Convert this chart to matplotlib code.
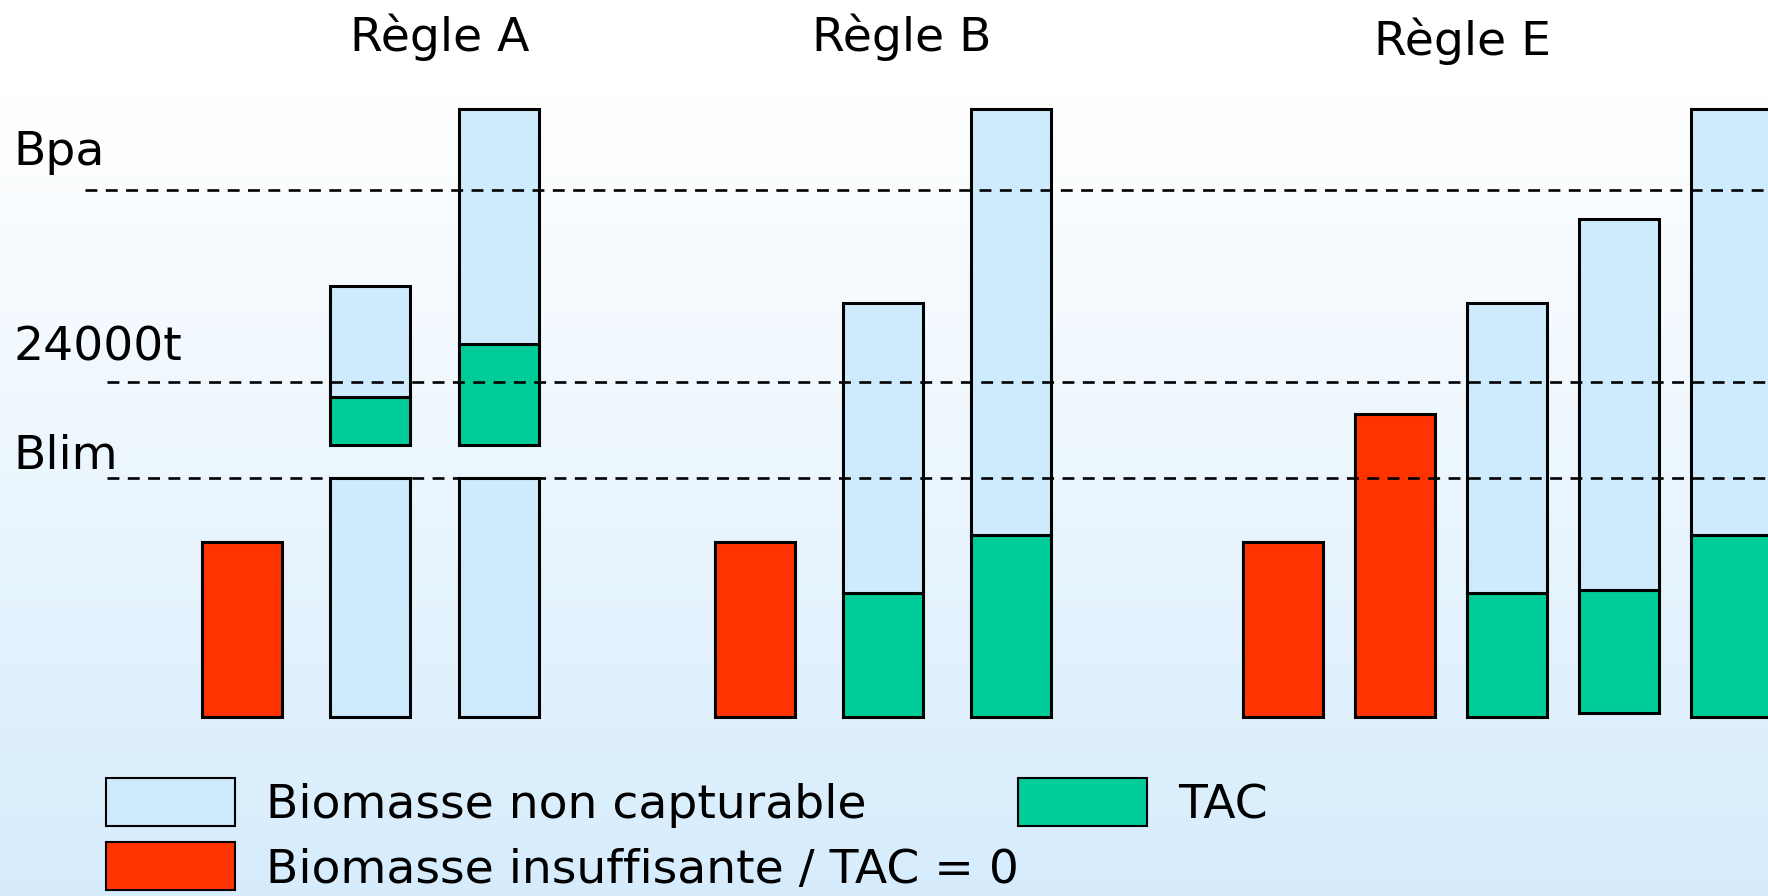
import matplotlib.pyplot as plt
from matplotlib.patches import Rectangle
import numpy as np

# biomass units: thousand tonnes (24 = 24000t)
bpa = 37.8
seuil = 24.0
blim = 17.1

groups = ['Règle A', 'Règle B', 'Règle E']

# one entry per bar: list of (bottom, top, kind) segments
# kind: 'nc' non capturable, 'tac', 'ins' insuffisante
bars_A = [
    [(0, 12.5, 'ins')],
    [(0, blim, 'nc'), (19.5, 22.9, 'tac'), (22.9, 30.9, 'nc')],
    [(0, blim, 'nc'), (19.5, 26.7, 'tac'), (26.7, 43.6, 'nc')],
]
bars_B = [
    [(0, 12.5, 'ins')],
    [(0, 8.9, 'tac'), (8.9, 29.7, 'nc')],
    [(0, 13.0, 'tac'), (13.0, 43.6, 'nc')],
]
bars_E = [
    [(0, 12.5, 'ins')],
    [(0, 21.7, 'ins')],
    [(0, 8.9, 'tac'), (8.9, 29.7, 'nc')],
    [(0.25, 9.1, 'tac'), (9.1, 35.7, 'nc')],
    [(0, 13.0, 'tac'), (13.0, 43.6, 'nc')],
]

legend_labels = {'nc': 'Biomasse non capturable',
                 'ins': 'Biomasse insuffisante / TAC = 0',
                 'tac': 'TAC'}
colors = {'nc': '#cdebfd', 'tac': '#00cc99', 'ins': '#ff3300'}

# layout (horizontal positions in canvas units)
xc_A = [215, 328.5, 442.5]
xc_B = [669.5, 783, 896.5]
xc_E = [1137.5, 1237, 1336.5, 1436, 1535]
title_x = [390, 800, 1297]
bw = 71
px = 12.375  # canvas px per biomass unit

fig = plt.figure(figsize=(17.68, 8.96), dpi=100)
ax = fig.add_axes([0, 0, 1, 1])
ymin, ymax = -(795 - 636) / px, 636 / px
ax.set_xlim(0, 1568)
ax.set_ylim(ymin, ymax)
ax.axis('off')

# background: white header then vertical gradient to pale blue
top_c = np.array([1.0, 1.0, 1.0])
bot_c = np.array([0xd6, 0xec, 0xfc]) / 255.
yy = np.linspace(0, 1, 400)[:, None]
grad = top_c + (bot_c - top_c) * yy
grad = np.repeat(grad[:, None, :], 2, axis=1)
y_grad_top = (636 - 87) / px
ax.imshow(grad, extent=[0, 1568, ymin, y_grad_top], aspect='auto', zorder=0)
ax.add_patch(Rectangle((0, y_grad_top), 1568, ymax - y_grad_top,
                       facecolor='white', edgecolor='none', zorder=0))

# reference levels, drawn over the bars
dash = (0, (4.5, 3.2))
ax.plot([75, 1568], [bpa, bpa], color='black', lw=1.9, ls=dash, zorder=4)
ax.plot([95, 1568], [seuil, seuil], color='black', lw=1.9, ls=dash, zorder=4)
ax.plot([95, 1568], [blim, blim], color='black', lw=1.9, ls=dash, zorder=4)

lab_kw = dict(fontsize=34, color='black', va='center', ha='left')
ax.text(12, (636 - 135) / px, 'Bpa', **lab_kw)
ax.text(12, (636 - 309) / px, '24000t', **lab_kw)
ax.text(12, (636 - 405) / px, 'Blim', **lab_kw)

for xs, bars in [(xc_A, bars_A), (xc_B, bars_B), (xc_E, bars_E)]:
    for x, segs in zip(xs, bars):
        for b0, b1, kind in segs:
            ax.bar(x, b1 - b0, bottom=b0, width=bw, color=colors[kind],
                   edgecolor='black', linewidth=2.2, zorder=2)

for x, g, dy in zip(title_x, groups, [33, 33, 37]):
    ax.text(x, (636 - dy) / px, g, fontsize=34, ha='center', va='center')

# legend drawn by hand
leg = [('nc', 94, 690), ('ins', 94, 747), ('tac', 903, 690)]
for kind, lx, ly in leg:
    ax.add_patch(Rectangle((lx, (636 - ly - 43) / px), 114, 43 / px,
                           facecolor=colors[kind], edgecolor='black',
                           linewidth=1.5, zorder=3))
    ax.text(lx + 114 + 28, (636 - ly - 25) / px, legend_labels[kind],
            fontsize=34, va='center', ha='left')

fig.savefig('out.png', dpi=100)
